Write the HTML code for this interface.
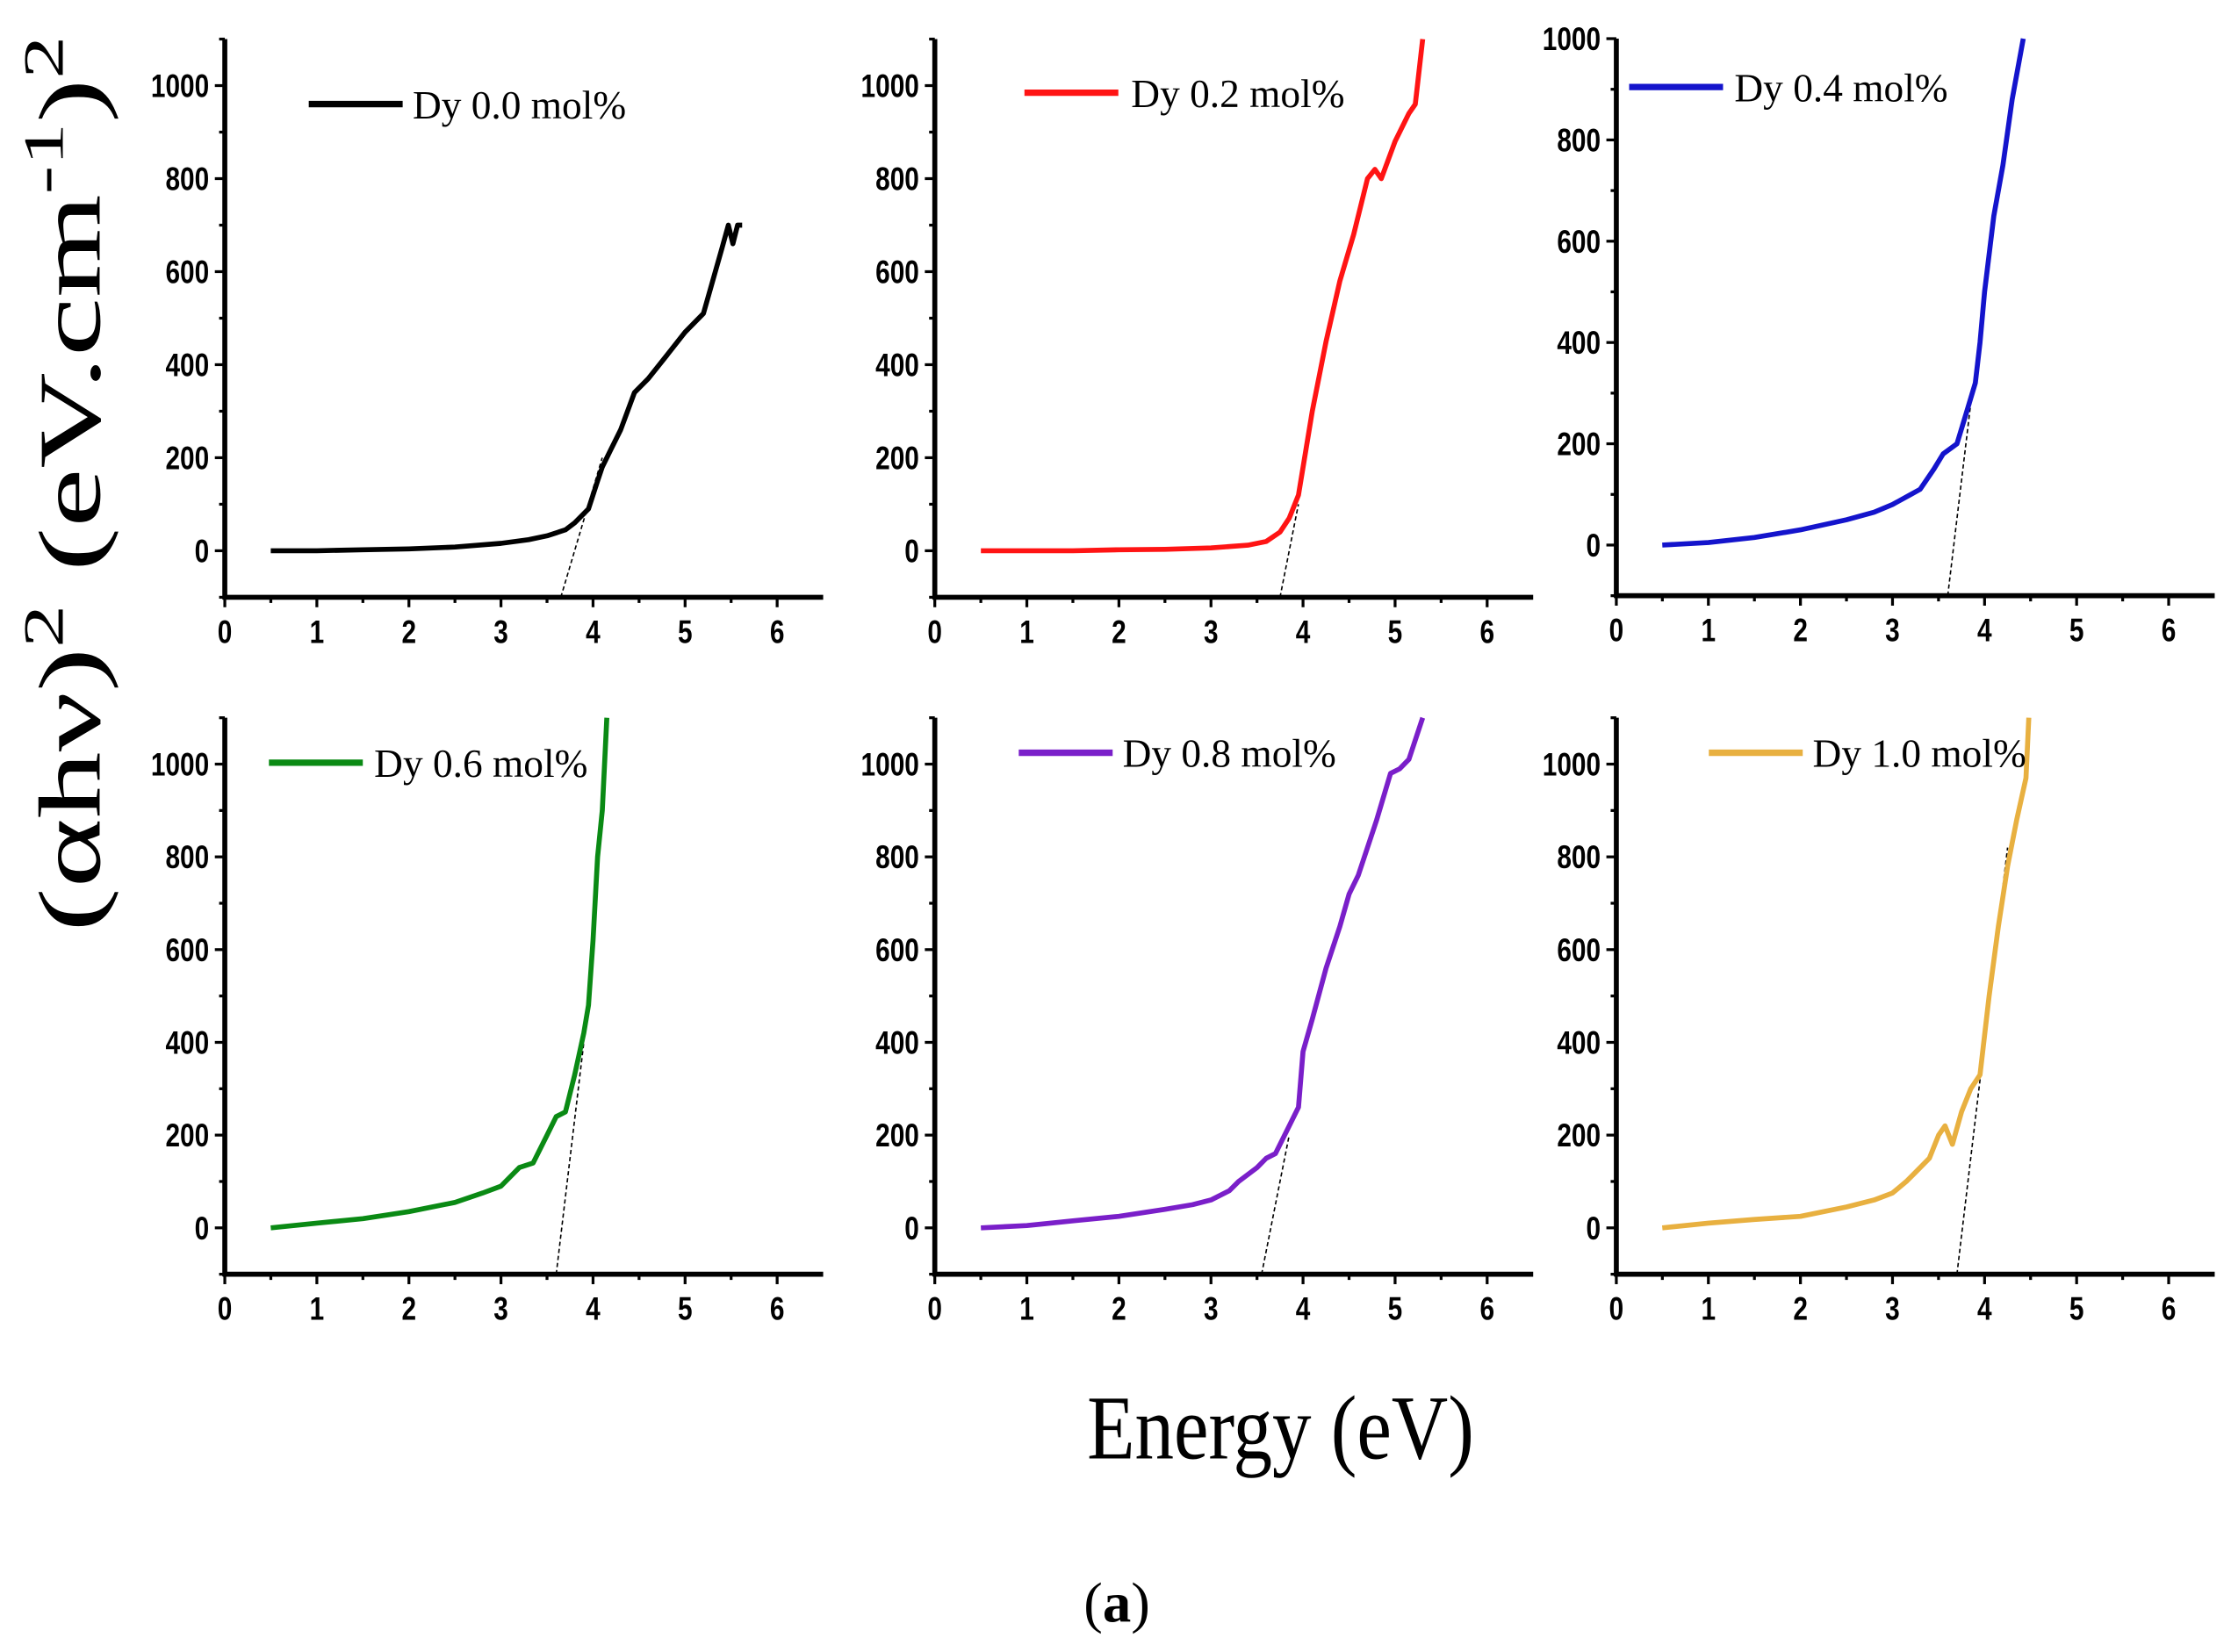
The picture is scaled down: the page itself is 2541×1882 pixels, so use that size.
<!DOCTYPE html>
<html><head><meta charset="utf-8"><style>
html,body{margin:0;padding:0;background:#fff;}
svg{display:block;}
.tk{font-family:"Liberation Sans",Arial,sans-serif;font-weight:bold;font-size:23px;fill:#000;}
.lg{font-family:"Liberation Serif",serif;font-size:28px;fill:#000;}
</style></head><body>
<svg id="fig" width="2541" height="1882" viewBox="0 0 1568 1161" xmlns="http://www.w3.org/2000/svg">
<text transform="translate(70,340) rotate(-90)" text-anchor="middle" textLength="630" lengthAdjust="spacingAndGlyphs" font-family="Liberation Serif,serif" font-size="62" fill="#000">(αhν)<tspan dy="-26" font-size="40">2</tspan><tspan dy="26"> (eV.cm</tspan><tspan dy="-26" font-size="40">-1</tspan><tspan dy="26">)</tspan><tspan dy="-26" font-size="40">2</tspan></text>
<text x="900" y="1025" text-anchor="middle" textLength="272" lengthAdjust="spacingAndGlyphs" font-family="Liberation Serif,serif" font-size="64" fill="#000">Energy (eV)</text>
<text x="785" y="1140" text-anchor="middle" font-family="Liberation Serif,serif" font-size="40" fill="#000">(<tspan font-weight="bold">a</tspan>)</text>
</svg>
<script>
const xTicks = [0,1,2,3,4,5,6];
const yTicks = [0,200,400,600,800,1000];
const labels = ["Dy 0.0 mol%","Dy 0.2 mol%","Dy 0.4 mol%","Dy 0.6 mol%","Dy 0.8 mol%","Dy 1.0 mol%"];
const colors = ["#000000","#ff1414","#1414cc","#0a8a14","#7a1fc9","#e8b040"];
const ex0 = [0.5,1,1.5,2,2.5,3,3.3,3.5,3.7,3.8,3.95,4.05,4.1,4.2,4.3,4.45,4.6,4.8,5.0,5.2,5.3,5.4,5.47,5.52,5.57,5.62];
const ey0 = [0,0,2,4,8,16,24,32,45,60,90,150,180,220,260,340,370,420,470,510,580,650,700,660,700,700];
const ex1 = [0.5,1,1.5,2,2.5,3,3.4,3.6,3.75,3.85,3.95,4.1,4.25,4.4,4.55,4.7,4.78,4.85,5.0,5.15,5.22,5.3];
const ey1 = [0,0,0,2,3,6,12,20,40,70,120,300,450,580,680,800,820,800,880,940,960,1100];
const ex2 = [0.5,1,1.5,2,2.5,2.8,3,3.2,3.3,3.45,3.55,3.7,3.8,3.9,3.95,4.0,4.1,4.2,4.3,4.42];
const ey2 = [0,5,15,30,50,65,80,100,110,150,180,200,260,320,400,500,650,750,880,1000];
const ex3 = [0.5,1,1.5,2,2.5,2.8,3,3.2,3.35,3.5,3.6,3.7,3.8,3.9,3.95,4.0,4.05,4.1,4.15];
const ey3 = [0,10,20,35,55,75,90,130,140,200,240,250,330,420,480,620,800,900,1100];
const ex4 = [0.5,1,1.5,2,2.5,2.8,3,3.2,3.3,3.5,3.6,3.7,3.85,3.95,4.0,4.1,4.25,4.4,4.5,4.6,4.8,4.95,5.05,5.15,5.3];
const ey4 = [0,5,15,25,40,50,60,80,100,130,150,160,220,260,380,450,560,650,720,760,880,980,990,1010,1100];
const ex5 = [0.5,1,1.5,2,2.5,2.8,3,3.15,3.25,3.4,3.5,3.57,3.65,3.75,3.85,3.95,4.05,4.15,4.25,4.35,4.45,4.48];
const ey5 = [0,10,18,25,45,60,75,100,120,150,200,220,180,250,300,330,500,650,780,880,970,1100];
const tangX = [[3.65,4.1],[3.75,3.95],[3.6,3.85],[3.6,3.9],[3.55,3.85],[3.7,4.25]];
const tangY = [[-100,200],[-100,100],[-100,280],[-100,400],[-100,200],[-100,820]];
const xs=[ex0,ex1,ex2,ex3,ex4,ex5], ys=[ey0,ey1,ey2,ey3,ey4,ey5];

const NS="http://www.w3.org/2000/svg", svg=document.getElementById('fig');
function mk(tag,attrs,parent){const e=document.createElementNS(NS,tag);for(const k in attrs)e.setAttribute(k,attrs[k]);(parent||svg).appendChild(e);return e;}
const legendPos=[[217,290,73],[720,795,65],[1145,1219,61],[189,263,536],[716,789,529],[1201,1274,529]];
for(let p=0;p<6;p++){
  const row=p<3?0:1, col=p%3;
  const ax0=[158,657,1136][col];
  const ux=64.7;
  let y0,y1000,yMin,yMax;
  if(p===2){y0=383;y1000=27;yMin=-100;yMax=1000;}
  else if(row===0){y0=387;y1000=60;yMin=-100;yMax=1100;}
  else {y0=863;y1000=537;yMin=-100;yMax=1100;}
  const X=v=>ax0+v*ux, Y=v=>y0-(y0-y1000)*v/1000;
  const g=mk('g',{});
  
  
  const yax=mk('line',{x1:ax0,y1:Y(yMax),x2:ax0,y2:Y(yMin)+1.5,stroke:'#000','stroke-width':3.5},g);
  
  
  const xax=mk('line',{x1:ax0-1.5,y1:Y(yMin),x2:X(6.5),y2:Y(yMin),stroke:'#000','stroke-width':3.5},g);
  
  
  for(let i=0;i<13;i++){const v=i*0.5;mk('line',{x1:X(v),y1:Y(yMin),x2:X(v),y2:Y(yMin)+(i%2?4:7),stroke:'#000','stroke-width':2},g);}
  xTicks.forEach(v=>{const t=mk('text',{transform:'translate('+X(v)+','+(Y(yMin)+32)+') scale(0.8,1)','text-anchor':'middle',class:'tk'},g);t.textContent=v;
    
    });
  for(let v=-100;v<=yMax;v+=100){mk('line',{x1:ax0,y1:Y(v),x2:ax0-(v%200===0?7:4),y2:Y(v),stroke:'#000','stroke-width':2},g);}
  yTicks.forEach(v=>{const t=mk('text',{transform:'translate('+(ax0-11)+','+(Y(v)+8)+') scale(0.8,1)','text-anchor':'end',class:'tk'},g);t.textContent=v;
    
    });
  const tl=mk('line',{x1:X(tangX[p][0]),y1:Y(tangY[p][0]),x2:X(tangX[p][1]),y2:Y(tangY[p][1]),stroke:'#000','stroke-width':1,'stroke-dasharray':'3,2'},g);
  
  
  const d=xs[p].map((v,i)=>(i?'L':'M')+X(v).toFixed(1)+','+Y(Math.min(ys[p][i],yMax)).toFixed(1)).join(' ');
  const path=mk('path',{d:d,fill:'none',stroke:colors[p],'stroke-width':3.5,'stroke-linejoin':'round'},g);
  
  
  const lp=legendPos[p];
  const ll=mk('line',{x1:lp[0],y1:lp[2],x2:lp[0]+66,y2:lp[2],stroke:colors[p],'stroke-width':4.5},g);
  
  
  const lt=mk('text',{x:lp[1],y:lp[2]+10,class:'lg'},g);lt.textContent=labels[p];
  
  
}
</script>
</body></html>
